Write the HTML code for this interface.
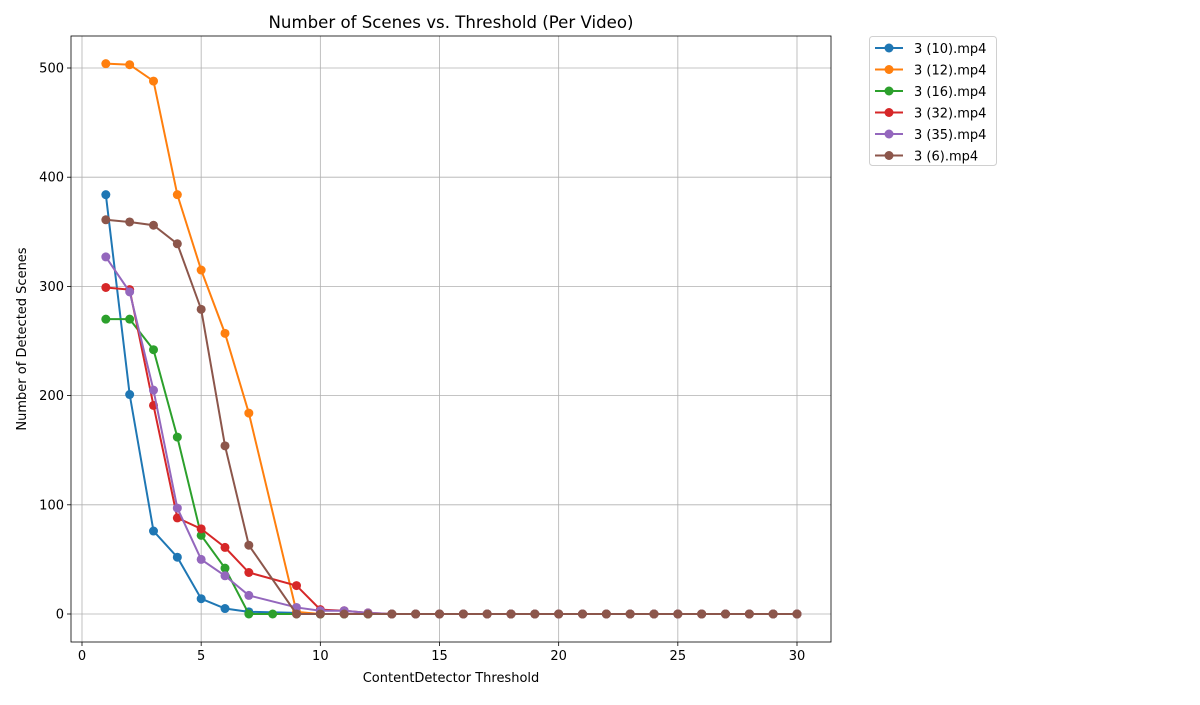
<!DOCTYPE html>
<html><head><meta charset="utf-8"><style>
body{margin:0;background:#fff;font-family:"Liberation Sans","DejaVu Sans",sans-serif}
svg text{font-family:"DejaVu Sans","Liberation Sans",sans-serif}
</style></head><body>
<svg id="chart" width="1200" height="700"></svg>
<script>
const seriesNames=["3 (10).mp4","3 (12).mp4","3 (16).mp4","3 (32).mp4","3 (35).mp4","3 (6).mp4"];
const colors=["#1f77b4","#ff7f0e","#2ca02c","#d62728","#9467bd","#8c564b"];
const tail=[13,14,15,16,17,18,19,20,21,22,23,24,25,26,27,28,29,30];
const xs10=[1,2,3,4,5,6,7,9,10,11,12];
const ys10=[384,201,76,52,14,5,2,1,0,0,0];
const xs12=[1,2,3,4,5,6,7,9,10,11,12];
const ys12=[504,503,488,384,315,257,184,2,0,0,0];
const xs16=[1,2,3,4,5,6,7,8,9,10,11,12];
const ys16=[270,270,242,162,72,42,0,0,0,0,0,0];
const xs32=[1,2,3,4,5,6,7,9,10,11,12];
const ys32=[299,297,191,88,78,61,38,26,4,3,1];
const xs35=[1,2,3,4,5,6,7,9,10,11,12];
const ys35=[327,295,205,97,50,35,17,6,3,3,1];
const xs6=[1,2,3,4,5,6,7,9,10,11,12];
const ys6=[361,359,356,339,279,154,63,0,0,0,0];
const xTicks=[0,5,10,15,20,25,30];
const yTicks=[0,100,200,300,400,500];
const X=[xs10,xs12,xs16,xs32,xs35,xs6].map(a=>a.concat(tail));
const Y=[ys10,ys12,ys16,ys32,ys35,ys6].map(a=>a.concat(tail.map(()=>0)));
const L=71,R=831,T=36,B=642;
const sx=v=>82+(v-0)*(797-82)/30;
const sy=v=>614-v*(614-68)/500;
const svg=document.getElementById('chart');
const NS="http://www.w3.org/2000/svg";
function el(t,a,p){const e=document.createElementNS(NS,t);for(const k in a)e.setAttribute(k,a[k]);(p||svg).appendChild(e);return e;}
const grid=el('g',{});


xTicks.forEach(t=>{const x=sx(t);
 el('line',{x1:x,x2:x,y1:T,y2:B,stroke:'#b0b0b0','stroke-width':0.8},grid);
 el('line',{x1:x,x2:x,y1:B,y2:B+4,stroke:'#000','stroke-width':0.8});
 const tx=el('text',{x:x,y:B+18,'text-anchor':'middle','font-size':13});tx.textContent=t;
 
 });
yTicks.forEach(t=>{const y=sy(t);
 el('line',{x1:L,x2:R,y1:y,y2:y,stroke:'#b0b0b0','stroke-width':0.8},grid);
 el('line',{x1:L-4,x2:L,y1:y,y2:y,stroke:'#000','stroke-width':0.8});
 const tx=el('text',{x:L-7,y:y+4.5,'text-anchor':'end','font-size':13});tx.textContent=t;
 
 });
X.forEach((xa,i)=>{
 const g=el('g',{});
 
 
 el('polyline',{points:xa.map((x,j)=>sx(x)+','+sy(Y[i][j])).join(' '),fill:'none',stroke:colors[i],'stroke-width':2},g);
 xa.forEach((x,j)=>{const c=el('circle',{cx:sx(x),cy:sy(Y[i][j]),r:4.5,fill:colors[i]},g);
  
  });
});
const frame=el('rect',{x:L,y:T,width:R-L,height:B-T,fill:'none',stroke:'#000','stroke-width':0.8});


const title=el('text',{x:451,y:28,'text-anchor':'middle','font-size':16.6});title.textContent="Number of Scenes vs. Threshold (Per Video)";


const xt=el('text',{x:451,y:682,'text-anchor':'middle','font-size':13});xt.textContent="ContentDetector Threshold";


const yt=el('text',{x:26,y:339,'text-anchor':'middle','font-size':13,transform:'rotate(-90 26 339)'});yt.textContent="Number of Detected Scenes";


const lg=el('g',{});


el('rect',{x:869.5,y:36.5,width:127,height:129,rx:3,fill:'#fff',stroke:'#d0d0d0'},lg);
seriesNames.forEach((n,i)=>{const y=48+i*21.5;
 el('line',{x1:875,x2:903,y1:y,y2:y,stroke:colors[i],'stroke-width':2},lg);
 el('circle',{cx:889,cy:y,r:4.5,fill:colors[i]},lg);
 const t=el('text',{x:914,y:y+5,'font-size':13},lg);t.textContent=n;
 
 });
</script>
</body></html>
